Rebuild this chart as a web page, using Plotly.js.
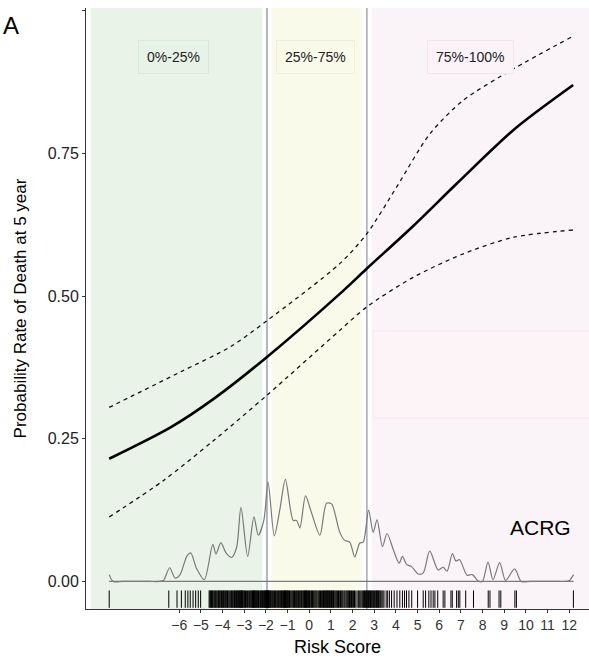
<!DOCTYPE html>
<html>
<head>
<meta charset="utf-8">
<script src="https://cdn.plot.ly/plotly-3.0.1.min.js"></script>
<style>html,body{margin:0;padding:0;background:#fff;}#chart{width:589px;height:663px;}</style>
</head>
<body>
<div id="chart"></div>
<script>
// ---- data ----
const riskFit   = [-9.23, -6.4, -4.41, -1.96, 1.41, 2.65, 4.8, 6.8, 9.48, 12.18];
const probFit   = [0.215, 0.270, 0.320, 0.393, 0.504, 0.548, 0.623, 0.697, 0.793, 0.870];

const riskUpper = [-9.23, -5.95, -3.65, -1.95, 1.41, 2.65, 4.03, 5.56, 7.1, 9.41, 12.1];
const probUpper = [0.305, 0.367, 0.411, 0.457, 0.557, 0.609, 0.691, 0.784, 0.843, 0.898, 0.954];

const riskLower = [-9.23, -6.72, -4.41, -1.96, 1.41, 2.65, 4.8, 7.1, 9.41, 12.18];
const probLower = [0.113, 0.177, 0.247, 0.326, 0.440, 0.481, 0.533, 0.574, 0.603, 0.616];

const densX = [-9.23, -9.05, -8.6, -8.0, -7.4, -6.9, -6.72, -6.44, -6.19, -5.96, -5.65, -5.47, -5.19, -4.84, -4.45, -4.30, -4.08, -3.84, -3.58, -3.35, -3.15, -2.84, -2.55, -2.35, -2.09, -1.90, -1.61, -1.35, -1.10, -0.74, -0.58, -0.43, -0.17, 0.11, 0.49, 0.80, 1.03, 1.41, 1.64, 1.87, 2.10, 2.33, 2.49, 2.74, 2.95, 3.13, 3.38, 3.59, 3.87, 4.15, 4.30, 4.49, 4.72, 5.03, 5.26, 5.56, 5.95, 6.18, 6.36, 6.61, 6.76, 6.94, 7.28, 7.53, 7.79, 7.99, 8.25, 8.48, 8.79, 9.06, 9.48, 9.78, 10.2, 10.8, 11.4, 11.8, 11.98, 12.2];
const densY = [0.012, 0.0, 0.0, 0.0, 0.0, 0.0, 0.002, 0.024, 0.006, 0.012, 0.044, 0.050, 0.022, 0.003, 0.065, 0.048, 0.068, 0.050, 0.042, 0.060, 0.130, 0.044, 0.113, 0.081, 0.108, 0.174, 0.080, 0.127, 0.179, 0.107, 0.107, 0.094, 0.150, 0.120, 0.081, 0.137, 0.136, 0.086, 0.072, 0.069, 0.043, 0.067, 0.069, 0.125, 0.086, 0.108, 0.061, 0.084, 0.057, 0.032, 0.044, 0.030, 0.026, 0.013, 0.015, 0.053, 0.020, 0.025, 0.018, 0.049, 0.036, 0.038, 0.011, 0.012, 0.001, 0.0, 0.034, 0.003, 0.033, 0.002, 0.022, 0.0, 0.0, 0.0, 0.0, 0.0, 0.001, 0.012];

const rugX = [-9.23,
 -6.48, -6.10, -5.90, -5.72, -5.60, -5.49, -5.36, -5.24, -5.12, -5.01,
 -4.62, -4.58, -4.55, -4.51, -4.47, -4.44, -4.40, -4.36, -4.33, -4.29, -4.25, -4.21, -4.18, -4.15, -4.12, -4.08, -4.05, -4.01, -3.98, -3.95, -3.92, -3.88, -3.85, -3.81, -3.77, -3.74, -3.70, -3.66, -3.62, -3.59, -3.55, -3.52, -3.48, -3.45, -3.42, -3.39, -3.36, -3.33, -3.30, -3.27, -3.24, -3.21, -3.19, -3.16, -3.14, -3.12, -3.10, -3.07, -3.05, -3.01, -2.98, -2.94, -2.90, -2.85, -2.81, -2.76, -2.72, -2.68, -2.65, -2.62, -2.59, -2.57, -2.55, -2.52, -2.50, -2.47, -2.44, -2.41, -2.38, -2.34, -2.31, -2.27, -2.24, -2.21, -2.18, -2.15, -2.12, -2.09, -2.07, -2.04, -2.02, -1.99, -1.97, -1.95, -1.93, -1.91, -1.90, -1.88, -1.86, -1.84, -1.81, -1.78, -1.75, -1.71, -1.68, -1.64, -1.60, -1.56, -1.52, -1.48, -1.45, -1.41, -1.38, -1.34, -1.31, -1.28, -1.25, -1.22, -1.19, -1.16, -1.14, -1.12, -1.10, -1.08, -1.06, -1.03, -1.01, -0.98, -0.95, -0.91, -0.88, -0.84, -0.80, -0.76, -0.72, -0.68, -0.64, -0.60, -0.57, -0.53, -0.50, -0.46, -0.43, -0.39, -0.36, -0.32, -0.28, -0.25, -0.22, -0.19, -0.17, -0.14, -0.12, -0.09, -0.06, -0.03, 0.01, 0.04, 0.08, 0.11, 0.15, 0.19, 0.23, 0.27, 0.31, 0.35, 0.40, 0.44, 0.48, 0.52, 0.56, 0.60, 0.63, 0.66, 0.70, 0.73, 0.76, 0.79, 0.82, 0.85, 0.88, 0.91, 0.94, 0.97, 1.00, 1.03, 1.06, 1.09, 1.12, 1.15, 1.19, 1.23, 1.27, 1.31, 1.35, 1.39, 1.44, 1.48, 1.52, 1.56, 1.61, 1.65, 1.70, 1.74, 1.78, 1.82, 1.86, 1.90, 1.95, 1.99, 2.04, 2.09, 2.15, 2.21, 2.28, 2.33, 2.38, 2.43, 2.47, 2.51, 2.55, 2.59, 2.62, 2.65, 2.68, 2.71, 2.74, 2.77, 2.80, 2.83, 2.86, 2.89, 2.93, 2.96, 3.00, 3.03, 3.07, 3.10, 3.13, 3.16, 3.19, 3.22, 3.26, 3.30, 3.35, 3.40, 3.45, 3.55, 3.62, 3.70, 3.80, 3.92, 4.05, 4.18, 4.30, 4.40, 4.49, 4.60, 4.73,
 5.00, 5.26, 5.37, 5.52, 5.62, 5.72, 5.80, 5.93, 6.18, 6.26, 6.54, 6.60, 6.80, 6.88, 6.95, 7.22, 7.58, 8.26, 8.34, 8.76, 8.84, 9.49, 9.56, 12.19];

const cutPoints   = [-1.95, 2.66];            // 25% and 75% quantiles of risk score
const groupLabels = ["0%-25%", "25%-75%", "75%-100%"];
const xTickVals   = [-6, -5, -4, -3, -2, -1, 0, 1, 2, 3, 4, 5, 6, 7, 8, 9, 10, 11, 12];
const yTickVals   = [0, 0.25, 0.5, 0.75, 1.0];
const yTickText   = ["0.00", "0.25", "0.50", "0.75", ""];
const cohortName  = "ACRG";

// ---- layout helpers ----
const X_RANGE = [-10.30, 12.91];
const Y_RANGE = [-0.0483, 1.005];
const FONT = "'Liberation Sans', Arial, Helvetica, sans-serif";
const gap = 0.22;

// rug as vertical segments
const rugXs = [], rugYs = [];
rugX.forEach(v => { rugXs.push(v, v, null); rugYs.push(-0.0158, -0.0462, null); });

const densMin = Math.min(...densX), densMax = Math.max(...densX);

const traces = [
  {x: densX, y: densY, mode: 'lines', line: {color: '#7a7a7a', width: 1.2, shape: 'spline', smoothing: 0.8}, hoverinfo: 'skip'},
  {x: [densMin, densMax], y: [0, 0], mode: 'lines', line: {color: '#7a7a7a', width: 1.2}, hoverinfo: 'skip'},
  {x: rugXs, y: rugYs, mode: 'lines', line: {color: '#000', width: 1}, hoverinfo: 'skip'},
  {x: riskUpper, y: probUpper, mode: 'lines', line: {color: '#111', width: 1.3, dash: '4px,4px', shape: 'spline', smoothing: 0.8}},
  {x: riskLower, y: probLower, mode: 'lines', line: {color: '#111', width: 1.3, dash: '4px,4px', shape: 'spline', smoothing: 0.8}},
  {x: riskFit, y: probFit, mode: 'lines', line: {color: '#000', width: 2.6, shape: 'spline', smoothing: 0.8}}
];

const regionColors = ['#e9f3e8', '#f9faea', '#faf4f9'];
const regionBounds = [
  [X_RANGE[0] + gap, cutPoints[0] - gap],
  [cutPoints[0] + gap, cutPoints[1] - gap - 0.05],
  [cutPoints[1] + gap, X_RANGE[1] + 1]
];
const shapes = [];
regionBounds.forEach((b, i) => shapes.push({type: 'rect', xref: 'x', yref: 'paper', x0: b[0], x1: b[1], y0: 0, y1: 1, fillcolor: regionColors[i], line: {width: 0}, layer: 'below'}));
cutPoints.forEach((c, i) => shapes.push({type: 'line', xref: 'x', yref: 'paper', x0: c, x1: c, y0: 0, y1: 1, line: {color: i === 0 ? '#b4b4bc' : '#a6a6ae', width: i === 0 ? 2 : 1.5}, layer: 'below'}));
// empty legend-like box
shapes.push({type: 'rect', xref: 'paper', yref: 'paper', x0: (373 - 86) / 503, x1: 1.02, y0: (609 - 418) / 601, y1: (609 - 331) / 601, fillcolor: '#fdf4f7', line: {color: '#f6e8ec', width: 1}, layer: 'below'});

const labelX = [-6.27, 0.31, 7.44];
const labelBg = ['#e8f3e7', '#f9faea', '#fcf3f8'];
const labelBorder = ['#d9e9d8', '#eef0dc', '#f5e4ec'];
const annotations = groupLabels.map((t, i) => ({
  x: labelX[i], y: 0.919, xref: 'x', yref: 'y', text: t, showarrow: false,
  font: {family: FONT, size: 14, color: '#222'}, bgcolor: labelBg[i], bordercolor: labelBorder[i], borderwidth: 1, borderpad: 8
}));
annotations.push({x: 10.65, y: 0.095, xref: 'x', yref: 'y', text: cohortName, showarrow: false, font: {family: FONT, size: 21, color: '#000'}});
annotations.push({x: (1 - 86) / 503, y: (609 - 10) / 601, xref: 'paper', yref: 'paper', xanchor: 'left', yanchor: 'top', text: 'A', showarrow: false, font: {family: FONT, size: 24, color: '#000'}});

const layout = {
  width: 589, height: 663,
  margin: {l: 86, r: 0, t: 8, b: 54, pad: 0},
  paper_bgcolor: '#fff', plot_bgcolor: '#fff',
  showlegend: false,
  font: {family: FONT, color: '#222'},
  xaxis: {
    range: X_RANGE, tickvals: xTickVals, ticktext: xTickVals.map(v => v < 0 ? '\u2212' + Math.abs(v) : String(v)),
    showgrid: false, zeroline: false, showline: true, linecolor: '#333', linewidth: 1,
    ticks: 'outside', ticklen: 3, tickcolor: '#333', tickfont: {family: FONT, size: 14, color: '#333'},
    title: {text: 'Risk Score', font: {family: FONT, size: 18, color: '#000'}, standoff: 8}
  },
  yaxis: {
    range: Y_RANGE, tickvals: yTickVals, ticktext: yTickText,
    showgrid: false, zeroline: false, showline: true, linecolor: '#333', linewidth: 1,
    ticks: 'outside', ticklen: 3, tickcolor: '#333', tickfont: {family: FONT, size: 16, color: '#222'},
    title: {text: 'Probability Rate of Death at 5 year', font: {family: FONT, size: 17, color: '#000'}, standoff: 16}
  },
  shapes: shapes,
  annotations: annotations
};

Plotly.newPlot('chart', traces, layout, {displayModeBar: false, staticPlot: true});
</script>
</body>
</html>
